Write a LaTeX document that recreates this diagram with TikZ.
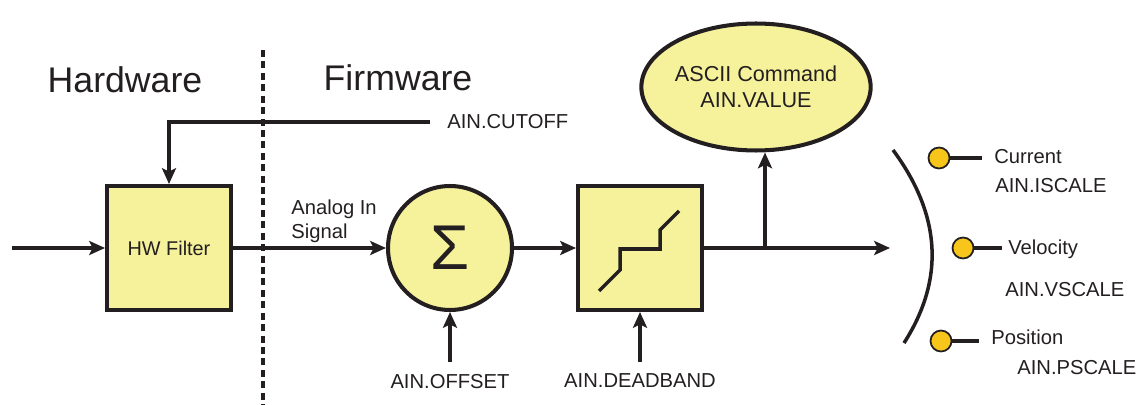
\documentclass[tikz,border=0pt]{standalone}
\usepackage{fontspec}
\setmainfont{Liberation Sans}
\usetikzlibrary{arrows.meta,shapes.geometric}
\definecolor{boxyellow}{HTML}{F6F29B}
\definecolor{dotyellow}{HTML}{F8C61B}
\definecolor{ink}{HTML}{231F20}
\begin{document}
\begin{tikzpicture}[x=0.02cm,y=-0.02cm,color=ink,
  blk/.style={draw,line width=2.3pt,fill=boxyellow,minimum size=2.48cm,inner sep=0pt},
  sig/.style={line width=1.8pt,-{Stealth[length=9pt,width=8pt,inset=2pt]}},
  big/.style={font=\fontsize{20.3}{24}\selectfont},
  lbl/.style={font=\fontsize{11.5}{13.5}\selectfont,inner sep=0pt},
  dot/.style={circle,draw,line width=1pt,fill=dotyellow,minimum size=0.42cm,inner sep=0pt}]
\useasboundingbox (0,0) rectangle (1138,405);
% hardware / firmware split
\node[big] (hwtitle) at (125,80) {Hardware};
\node[big] (fwtitle) at (398,78) {Firmware};
\coordinate (splittop) at (263,50);
\coordinate (splitbot) at (263,405);
\draw[line width=1.8pt,dash pattern=on 4pt off 2.5pt] (splittop) -- (splitbot);
% blocks
\node[blk] (hw) at (169,248) {\fontsize{11.3}{13}\selectfont HW Filter};
\node[blk,circle] (sum) at (450,248) {\fontsize{36}{36}\selectfont Σ};
\node[blk] (db) at (640,248) {};
\draw[line width=2pt] (599,291) -- (620,270) -- (620,249) -- (660,249) -- (660,230) -- (679,211);
\node[draw,ellipse,line width=2.3pt,fill=boxyellow,minimum width=4.08cm,minimum height=2.54cm,inner sep=0pt,
  align=center,font=\fontsize{12.3}{14.7}\selectfont] (ascii) at (756,87) {ASCII Command\\AIN.VALUE};
% labels
\node[lbl,anchor=west] (cutoff) at (447,122) {AIN.CUTOFF};
\node[lbl,anchor=west,align=left] (analog) at (291,221) {Analog In\\Signal};
\node[lbl] (offset) at (450,382) {AIN.OFFSET};
\node[lbl] (deadband) at (640,381) {AIN.DEADBAND};
% signal path
\coordinate (in) at (12,248);
\coordinate (cutend) at (430,122);
\coordinate (offtail) at (450,362);
\coordinate (dbtail) at (640,362);
\coordinate (tap) at (765,248);
\coordinate (out) at (890,248);
\draw[sig] (in) -- (hw.west);
\draw[sig] (cutend) -| (hw.north);
\draw[sig] (hw.east) -- (sum.west);
\draw[sig] (offtail) -- (sum.south);
\draw[sig] (sum.east) -- (db.west);
\draw[sig] (dbtail) -- (db.south);
\draw[sig] (db.east) -- (out);
\draw[sig] (tap) -- (tap |- ascii.south);
% selector
\draw[line width=2pt] (893,150) .. controls (941,215) and (945,279) .. (904,343);
\node[dot] (cur) at (939,158) {};
\node[dot] (vel) at (963,248) {};
\node[dot] (pos) at (941,341) {};
\coordinate (curend) at (982,158);
\coordinate (velend) at (1002,248);
\coordinate (posend) at (979,341);
\draw[line width=2pt] (cur) -- (curend);
\draw[line width=2pt] (vel) -- (velend);
\draw[line width=2pt] (pos) -- (posend);
\node[lbl,anchor=west] (curtxt) at (994,157) {Current};
\node[lbl,anchor=west] (iscale) at (995,186) {AIN.ISCALE};
\node[lbl,anchor=west] (veltxt) at (1008,249) {Velocity};
\node[lbl,anchor=west] (vscale) at (1005,290) {AIN.VSCALE};
\node[lbl,anchor=west] (postxt) at (991,337) {Position};
\node[lbl,anchor=west] (pscale) at (1017,368) {AIN.PSCALE};
\end{tikzpicture}
\end{document}
